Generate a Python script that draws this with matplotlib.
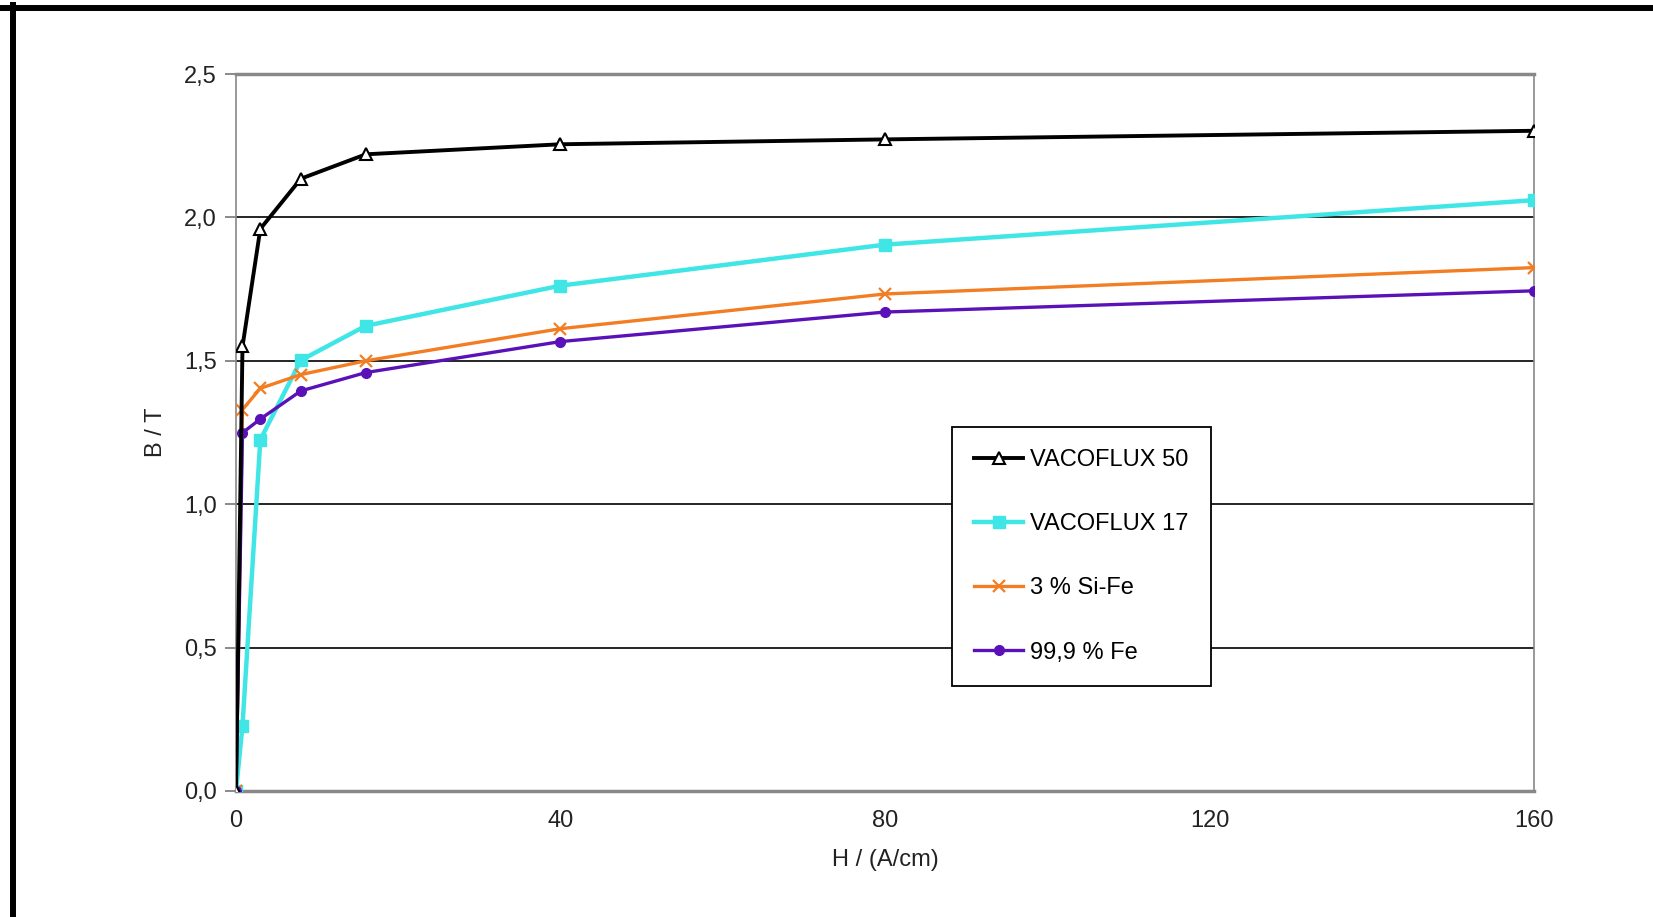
import matplotlib
matplotlib.use("Agg")
import matplotlib.pyplot as plt
from matplotlib.lines import Line2D
from matplotlib.ticker import FuncFormatter

plt.rcParams['font.family'] = ['Liberation Sans', 'DejaVu Sans']

H = [0, 0.8, 3, 8, 16, 40, 80, 160]
vacoflux50 = [0.0, 1.55, 1.96, 2.135, 2.22, 2.255, 2.272, 2.302]
vacoflux17 = [0.0, 0.228, 1.225, 1.502, 1.622, 1.762, 1.905, 2.060]
sife3 = [0.0, 1.33, 1.404, 1.452, 1.500, 1.612, 1.733, 1.825]
fe999 = [0.0, 1.249, 1.297, 1.395, 1.459, 1.567, 1.670, 1.744]
labels = ['VACOFLUX 50', 'VACOFLUX 17', '3 % Si-Fe', '99,9 % Fe']
xticks = [0, 40, 80, 120, 160]
yticks = [0.0, 0.5, 1.0, 1.5, 2.0, 2.5]

FS = 17
W, Hpx = 1653, 917
fig = plt.figure(figsize=(W / 100, Hpx / 100), dpi=100)
ax = fig.add_axes([236 / W, 1 - 791 / Hpx, (1534 - 236) / W, (791 - 74) / Hpx])

ax.plot(H, vacoflux50, color='black', lw=2.8, marker='^', ms=8,
        mfc='white', mec='black', mew=1.5, label=labels[0], zorder=5)
ax.plot(H, vacoflux17, color='#40E6E6', lw=3.2, marker='s', ms=9,
        mfc='#40E6E6', mec='#40E6E6', label=labels[1], zorder=4)
ax.plot(H, sife3, color='#F27D22', lw=2.4, marker='x', ms=8, mew=1.6,
        label=labels[2], zorder=4)
ax.plot(H, fe999, color='#5A12B8', lw=2.4, marker='o', ms=7,
        mfc='#5A12B8', mec='#5A12B8', label=labels[3], zorder=4)

ax.set_xlim(0, 160)
ax.set_ylim(0, 2.5)
ax.set_xticks(xticks)
ax.set_yticks(yticks)
ax.yaxis.set_major_formatter(FuncFormatter(lambda v, p: f"{v:.1f}".replace('.', ',')))
ax.xaxis.set_major_formatter(FuncFormatter(lambda v, p: f"{int(v)}"))
ax.tick_params(axis='both', labelsize=FS, colors='#222222')
ax.tick_params(axis='x', length=0, pad=14)
ax.tick_params(axis='y', length=8, width=1.2, color='#777777', pad=6)

for y in yticks[1:-1]:
    ax.axhline(y, color='black', lw=1.2, zorder=1)
for s in ['top', 'bottom']:
    ax.spines[s].set_color('#888888')
    ax.spines[s].set_linewidth(2.5)
for s in ['left', 'right']:
    ax.spines[s].set_color('#888888')
    ax.spines[s].set_linewidth(1.2)

ax.set_xlabel('H / (A/cm)', fontsize=FS, labelpad=12, color='#222222')
ax.set_ylabel('B / T', fontsize=FS, labelpad=12, color='#222222')

leg = ax.legend(loc='upper left', bbox_to_anchor=(952 / W, 1 - 427 / Hpx),
                bbox_transform=fig.transFigure, fontsize=FS, frameon=True,
                fancybox=False, edgecolor='black', framealpha=1,
                borderpad=0.95, labelspacing=1.78, handlelength=2.05,
                handletextpad=0.3, borderaxespad=0)
leg.get_frame().set_linewidth(1.3)

# outer frame (thick black lines at top and left)
fig.add_artist(Line2D([0, 1], [1 - 7.5 / Hpx, 1 - 7.5 / Hpx], color='black',
                      lw=4.3, transform=fig.transFigure))
fig.add_artist(Line2D([13 / W, 13 / W], [0, 1 - 5 / Hpx], color='black',
                      lw=4.3, transform=fig.transFigure))

fig.savefig('out.png', dpi=100)
